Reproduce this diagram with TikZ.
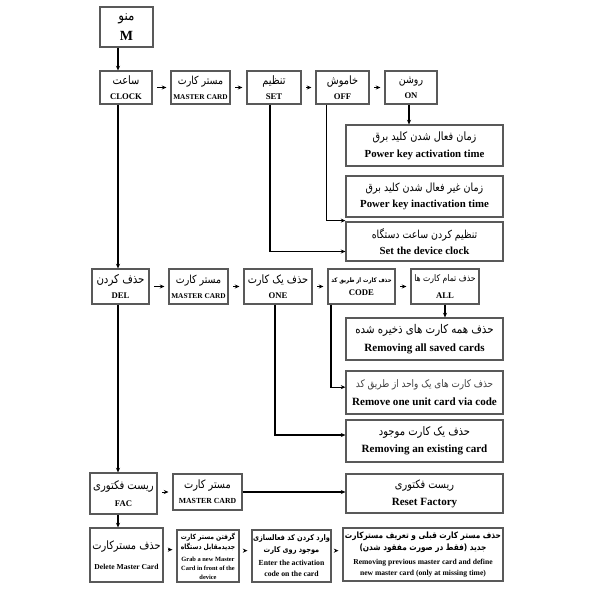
\documentclass[tikz,border=0pt]{standalone}
\usepackage{fontspec}
\setmainfont{Liberation Serif}
\newfontfamily\fa[Script=Arabic,FakeStretch=0.85]{DejaVu Sans}
\TeXXeTstate=1
\usetikzlibrary{arrows.meta}
\newcommand\bx[7][]{\node[box,#1,minimum width={(#4-#2)*0.75pt},minimum height={(#5-#3)*0.75pt}] (#6) at ({(#2+#4)/2},{(#3+#5)/2}) {#7};}
\newcommand\fr[1]{\fa\mdseries\fontsize{#1}{#1}\selectfont}
\newcommand\frb[1]{\fa\bfseries\fontsize{#1}{#1}\selectfont}
\newcommand\la[1]{\bfseries\fontsize{#1}{#1}\selectfont}
\tikzset{
  box/.style={draw=black!65,line width=0.8pt,inner sep=0pt,align=center,font=\fontsize{5}{11}\selectfont},
  bs/.style={font=\fontsize{5}{#1}\selectfont},
  conn/.style={line width=1pt,-{Stealth[length=3.5pt,width=3pt]}},
  short/.style={conn,line width=0.6pt,shorten <=3.5pt,shorten >=3pt},
}
\begin{document}
\begin{tikzpicture}[x=0.75pt,y=-0.75pt]
\useasboundingbox[fill=white] (0,0) rectangle (600,600);
\coordinate (v) at (118,0);
% row 0
\bx[bs=15]{100}{7}{153}{47}{m}{{\fr{10.5}\beginR منو\endR}\\{\la{10.5}M}}
% row 1
\bx{100}{71}{152}{104}{clock}{{\fr{8.7}\beginR ساعت\endR}\\{\la{6.5}CLOCK}}
\bx{171}{71}{230}{104}{mca}{{\fr{8.3}\beginR مستر کارت\endR}\\{\la{5.5}MASTER CARD}}
\bx{247}{71}{301}{104}{set}{{\fr{8.7}\beginR تنظیم\endR}\\{\la{6.5}SET}}
\bx{316}{71}{369}{104}{off}{{\fr{8.6}\beginR خاموش\endR}\\{\la{6.5}OFF}}
\bx{385}{71}{437}{104}{on}{{\fr{8.3}\beginR روشن\endR}\\{\la{6.5}ON}}
% right column 1
\bx[bs=12.5]{346}{125}{503}{166}{pka}{{\fr{8.6}\beginR زمان فعال شدن کلید برق\endR}\\{\la{8.1}Power key activation time}}
\bx[bs=12.5]{346}{176}{503}{217}{pki}{{\fr{8.4}\beginR زمان غیر فعال شدن کلید برق\endR}\\{\la{8.1}Power key inactivation time}}
\bx[bs=12.5]{346}{222}{503}{261}{clk}{{\fr{8.3}\beginR تنظیم کردن ساعت دستگاه\endR}\\{\la{8.1}Set the device clock}}
% row 2
\bx{92}{269}{149}{304}{del}{{\fr{9}\beginR حذف کردن\endR}\\{\la{6.5}DEL}}
\bx{169}{269}{228}{304}{mcb}{{\fr{8.3}\beginR مستر کارت\endR}\\{\la{5.5}MASTER CARD}}
\bx{244}{269}{312}{304}{one}{{\fr{8.6}\beginR حذف یک کارت\endR}\\{\la{6.5}ONE}}
\bx[bs=10]{328}{269}{395}{304}{code}{{\frb{4.7}\beginR حذف کارت از طریق کد\endR}\\{\la{6.5}CODE}}
\bx[bs=12.5]{411}{269}{479}{304}{all}{{\fr{6.8}\beginR حذف تمام کارت ها\endR}\\{\la{6.5}ALL}}
% right column 2
\bx[bs=13]{346}{318}{503}{360}{ras}{{\fr{9}\beginR حذف همه کارت های ذخیره شده\endR}\\{\la{8.3}Removing all saved cards}}
\bx[bs=13.5]{346}{371}{503}{414}{rou}{{\color{black!75}\fr{7.8}\beginR حذف کارت های یک واحد از طریق کد\endR}\\{\la{8.3}Remove one unit card via code}}
\bx[bs=13]{346}{420}{503}{462}{rae}{{\fr{8.8}\beginR حذف یک کارت موجود\endR}\\{\la{8.3}Removing an existing card}}
% row 3
\bx[bs=12.5]{90}{473}{157}{514}{fac}{{\fr{8.8}\beginR ریست فکتوری\endR}\\{\la{6.5}FAC}}
\bx[bs=11.5]{173}{474}{242}{510}{mcc}{{\fr{8.6}\beginR مستر کارت\endR}\\{\la{5.8}MASTER CARD}}
\bx[bs=13]{346}{474}{503}{513}{rf}{{\fr{8.6}\beginR ریست فکتوری\endR}\\{\la{8.3}Reset Factory}}
% row 4
\bx[bs=15]{90}{528}{163}{582}{dmc}{{\fr{8.6}\beginR حذف مسترکارت\endR}\\{\la{5.7}Delete Master Card}}
\bx[bs=6.6]{177}{530}{239}{582}{grab}{{\frb{5.3}\beginR گرفتن مستر کارت\endR}\\[1pt]{\frb{5.3}\beginR جدیدمقابل دستگاه\endR}\\[2.5pt]{\la{4.8}Grab a new Master}\\{\la{4.8}Card in front of the}\\{\la{4.8}device}}
\bx[bs=8.5]{252}{530}{331}{582}{ent}{{\frb{5.8}\beginR وارد کردن کد فعالسازی\endR}\\{\frb{5.8}\beginR موجود روی کارت\endR}\\[1.5pt]{\la{5.8}Enter the activation}\\{\la{5.8}code on the card}}
\bx[bs=8.5]{343}{528}{503}{581}{rpm}{{\frb{6.5}\beginR حذف مستر کارت قبلی و تعریف مسترکارت\endR}\\[1pt]{\frb{6.5}\beginR جدید (فقط در صورت مفقود شدن)\endR}\\[1.5pt]{\la{5.7}Removing previous master card and define}\\{\la{5.7}new master card (only at missing time)}}
% connectors
\draw[conn] (m.south -| v) -- (clock.north -| v);
\draw[short] (clock) -- (mca);
\draw[short] (mca) -- (set);
\draw[short] (set) -- (off);
\draw[short] (off) -- (on);
\draw[conn] ([xshift=-1.5pt]on.south) -- ([xshift=-1.5pt]on.south |- pka.north);
\draw[conn] ([xshift=-3pt]set.south) |- ([yshift=-7.5pt]clk.west);
\draw[conn] ([xshift=-12pt]off.south) |- ([yshift=-2.3pt]pki.south west);
\draw[conn] (clock.south -| v) -- (del.north -| v);
\draw[short] (del) -- (mcb);
\draw[short] (mcb) -- (one);
\draw[short] (one) -- (code);
\draw[short] (code) -- (all);
\draw[conn] (all.south) -- (ras.north -| all.south);
\draw[conn] ([xshift=-23pt]code.south) |- ([yshift=4pt]rou.west);
\draw[conn] ([xshift=-2.3pt]one.south) |- ([yshift=4.5pt]rae.west);
\draw[conn] (del.south -| v) -- (fac.north -| v);
\draw[short] (fac.east |- mcc) -- (mcc.west);
\draw[conn] (mcc.east) -- (rf.west |- mcc);
\draw[conn] (fac.south -| v) -- (dmc.north -| v);
\draw[short] ([yshift=4pt]dmc.east) -- ([yshift=4pt]dmc.east -| grab.west);
\draw[short] ([yshift=4pt]grab.east) -- ([yshift=4pt]grab.east -| ent.west);
\draw[short] ([yshift=4pt]ent.east) -- ([yshift=4pt]ent.east -| rpm.west);
\end{tikzpicture}
\end{document}
